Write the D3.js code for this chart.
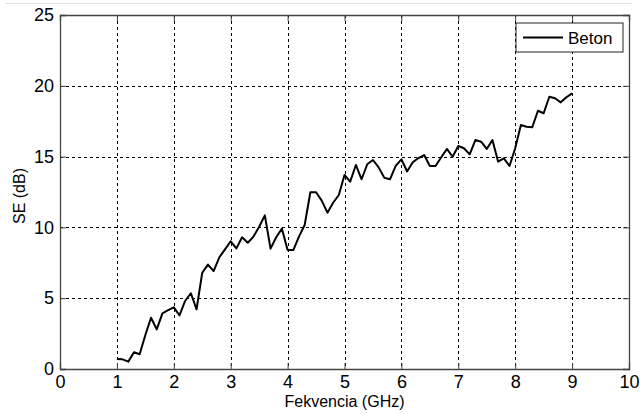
<!DOCTYPE html>
<html>
<head>
<meta charset="utf-8">
<script src="https://cdn.jsdelivr.net/npm/d3@7"></script>
<style>
  body { margin: 0; background: #fff; }
  svg { display: block; font-family: "Liberation Sans", Arial, sans-serif; }
</style>
</head>
<body>
<div id="chart"></div>
<script>
// Frequency points (GHz), one every 0.1 GHz from 1 to 9
const freqs = d3.range(81).map(i => +(1 + i * 0.1).toFixed(1));

// Shielding effectiveness of concrete (dB)
const seBeton = [
    0.71, 0.68, 0.52, 1.18, 1.04, 2.40, 3.62, 2.80, 3.93, 4.15,
    4.36, 3.79, 4.82, 5.35, 4.21, 6.80, 7.37, 6.92, 7.89, 8.45,
    9.02, 8.52, 9.30, 8.92, 9.35, 10.05, 10.85, 8.50, 9.30, 9.91,
    8.40, 8.40, 9.35, 10.17, 12.48, 12.48, 11.89, 11.04, 11.74, 12.29,
    13.70, 13.23, 14.41, 13.40, 14.46, 14.76, 14.24, 13.51, 13.40, 14.35,
    14.81, 13.95, 14.60, 14.90, 15.11, 14.34, 14.34, 14.95, 15.54, 14.99,
    15.75, 15.59, 15.16, 16.17, 16.05, 15.54, 16.17, 14.64, 14.88, 14.34,
    15.59, 17.23, 17.11, 17.07, 18.24, 18.06, 19.23, 19.12, 18.83, 19.19,
    19.47
];

const xTicks = d3.range(0, 11, 1);
const yTicks = d3.range(0, 26, 5);
const seriesName = 'Beton';

const width = 640, height = 414;
const margin = { top: 15, right: 11, bottom: 45, left: 60 };

const svg = d3.select('#chart')
    .append('svg')
    .attr('width', width)
    .attr('height', height);

// faint rule left over from the page above the figure
svg.append('line')
    .attr('x1', 5).attr('x2', 632)
    .attr('y1', 3.5).attr('y2', 3.5)
    .attr('stroke', '#e4e4da')
    .attr('stroke-width', 1);

const x = d3.scaleLinear().domain([0, 10]).range([margin.left, width - margin.right]);
const y = d3.scaleLinear().domain([0, 25]).range([height - margin.bottom, margin.top]);

const plotL = x(0), plotR = x(10), plotT = y(25), plotB = y(0);

// Grid (dotted)
const grid = svg.append('g').attr('class', 'grid')
    .attr('stroke', '#000')
    .attr('stroke-width', 1)
    .attr('stroke-dasharray', '3,3');

grid.selectAll('.vgrid')
    .data(xTicks.filter(d => d > 0 && d < 10))
    .enter().append('line')
    .attr('x1', d => Math.round(x(d)) + 0.5)
    .attr('x2', d => Math.round(x(d)) + 0.5)
    .attr('y1', plotT).attr('y2', plotB);

grid.selectAll('.hgrid')
    .data(yTicks.filter(d => d > 0 && d < 25))
    .enter().append('line')
    .attr('y1', d => Math.round(y(d)) + 0.5)
    .attr('y2', d => Math.round(y(d)) + 0.5)
    .attr('x1', plotL).attr('x2', plotR);

// Axes with inward ticks, MATLAB style
const tickLen = 6;
const axisColor = '#444';

const xAxis = svg.append('g')
    .attr('transform', `translate(0,${plotB})`)
    .call(d3.axisBottom(x).tickValues(xTicks).tickSize(-tickLen).tickPadding(6).tickFormat(d3.format('d')));

const yAxis = svg.append('g')
    .attr('transform', `translate(${plotL},0)`)
    .call(d3.axisLeft(y).tickValues(yTicks).tickSize(-tickLen).tickPadding(6).tickFormat(d3.format('d')));

const xTop = svg.append('g')
    .attr('transform', `translate(0,${plotT})`)
    .call(d3.axisTop(x).tickValues(xTicks).tickSize(-tickLen).tickFormat(''));

const yRight = svg.append('g')
    .attr('transform', `translate(${plotR},0)`)
    .call(d3.axisRight(y).tickValues(yTicks).tickSize(-tickLen).tickFormat(''));

[xAxis, yAxis, xTop, yRight].forEach(g => {
    g.select('.domain').attr('stroke', axisColor).attr('stroke-width', 1.3);
    g.selectAll('.tick line').attr('stroke', axisColor);
    g.selectAll('.tick text')
        .attr('fill', '#000')
        .style('font-size', '18px')
        .style('font-family', '"Liberation Sans", Arial, sans-serif');
});

// Data line
const line = d3.line()
    .x((d, i) => x(freqs[i]))
    .y(d => y(d));

svg.append('path')
    .datum(seBeton)
    .attr('fill', 'none')
    .attr('stroke', '#000')
    .attr('stroke-width', 2)
    .attr('stroke-linejoin', 'round')
    .attr('d', line);

// Axis labels
svg.append('text')
    .attr('x', (plotL + plotR) / 2)
    .attr('y', 407)
    .attr('text-anchor', 'middle')
    .style('font-size', '16px')
    .text('Fekvencia (GHz)');

svg.append('text')
    .attr('transform', `translate(25,${(plotT + plotB) / 2 + 4}) rotate(-90)`)
    .attr('text-anchor', 'middle')
    .style('font-size', '16px')
    .text('SE (dB)');

// Legend
const legend = svg.append('g')
    .attr('transform', 'translate(516,23)');

legend.append('rect')
    .attr('width', 107)
    .attr('height', 29)
    .attr('fill', '#fff')
    .attr('stroke', '#222')
    .attr('stroke-width', 1);

legend.append('line')
    .attr('x1', 7).attr('x2', 47)
    .attr('y1', 14.5).attr('y2', 14.5)
    .attr('stroke', '#000')
    .attr('stroke-width', 2);

legend.append('text')
    .attr('x', 52)
    .attr('y', 20.5)
    .style('font-size', '17px')
    .text(seriesName);
</script>
</body>
</html>
